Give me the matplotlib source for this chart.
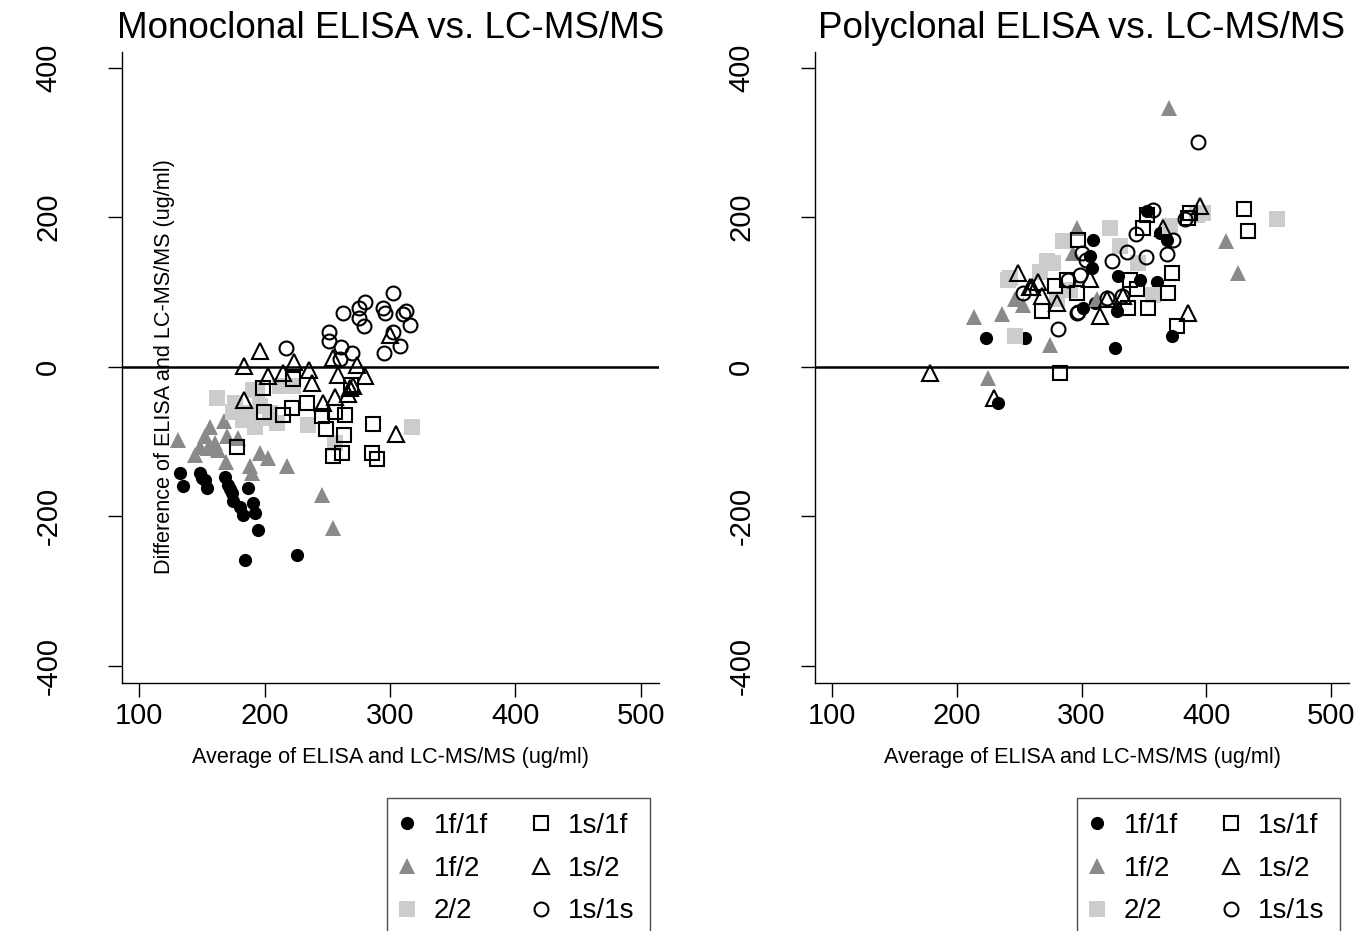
import matplotlib
matplotlib.use("Agg")
import matplotlib.pyplot as plt
import numpy as np

# ---- Monoclonal panel (x = average, y = difference) ----
mono_1f1f_x = [132.7, 134.8, 148.6, 154.4, 150.0, 152.6, 168.5, 171.2, 172.5, 173.9, 175.2, 180.5,
               183.2, 187.1, 191.1, 192.4, 195.1, 184.5, 225.7]
mono_1f1f_y = [-142, -159, -142, -162, -149, -151, -147, -158, -164, -169, -180, -187,
               -198, -162, -182, -196, -218, -258, -252]

mono_1f2_x = [131.3, 148.6, 152.6, 155.2, 156.6, 160.6, 167.7, 169.3, 169.9, 179.1, 188.4, 189.8,
              196.4, 203.0, 217.7, 245.6, 254.8, 144.6, 163.0]
mono_1f2_y = [-98, -107, -93, -109, -80, -102, -73, -127, -93, -95, -133, -142,
              -115, -122, -133, -171, -216, -118, -111]

mono_22_x = [161.9, 176.5, 175.1, 183.1, 185.8, 192.4, 193.8, 196.4, 204.4, 209.7, 217.7, 222.9,
             234.9, 256.2, 317.3, 191.0, 212.0, 188.0, 204.0]
mono_22_y = [-42, -49, -60, -71, -62, -80, -31, -53, -62, -75, -26, -26,
             -78, -102, -80, -31, -26, -66, -68]

mono_1s1f_x = [177.8, 198.6, 199.6, 215.0, 221.7, 222.5, 233.6, 245.6, 249.0, 254.8, 256.2, 261.5,
               263.3, 264.1, 268.7, 285.4, 286.2, 289.4]
mono_1s1f_y = [-108, -28, -61, -64, -55, -17, -49, -66, -83, -120, -60, -115,
               -91, -64, -25, -115, -77, -123]

mono_1s2_x = [183.7, 183.7, 196.4, 202.5, 215.0, 223.7, 235.7, 238.1, 246.4, 254.8, 258.8, 256.2,
              266.8, 268.1, 270.8, 273.5, 280.1, 300.0, 304.5]
mono_1s2_y = [1, -45, 21, -13, -8, 6, -4, -22, -48, 12, -11, -40,
              -37, -28, -26, 3, -12, 43, -90]

mono_1s1s_x = [216.9, 251.6, 251.6, 260.2, 260.7, 262.8, 269.5, 275.5, 275.5, 279.5, 280.1, 294.7,
               296.0, 302.6, 302.6, 308.0, 295.4, 310.6, 312.7, 315.9]
mono_1s1s_y = [25, 46, 35, 10, 27, 72, 18, 79, 65, 54, 86, 79,
               72, 99, 47, 28, 19, 70, 75, 56]

# ---- Polyclonal panel ----
poly_1f1f_x = [223.4, 233.3, 254.7, 301.2, 308.2, 309.5, 310.8, 326.9, 328.2, 329.5, 346.9, 352.3,
               360.3, 362.9, 368.3, 372.3, 306.8]
poly_1f1f_y = [38, -49, 38, 79, 132, 170, 85, 25, 74, 122, 116, 208,
               114, 179, 170, 41, 148]

poly_1f2_x = [370.4, 214.1, 236.0, 225.3, 274.7, 253.3, 293.4, 296.2, 415.8, 425.7, 246.7, 312.3]
poly_1f2_y = [346, 67, 70, -15, 29, 83, 152, 186, 168, 125, 90, 90]

poly_22_x = [456.4, 322.8, 397.6, 246.7, 241.3, 285.4, 277.4, 266.7, 330.9, 345.5, 357.5, 370.9,
             280.1, 290.8, 272.1, 242.7, 392.4]
poly_22_y = [197, 186, 205, 41, 116, 168, 139, 127, 161, 139, 96, 188,
             90, 103, 141, 119, 203]

poly_1s1f_x = [430.3, 433.7, 297.4, 278.8, 268.1, 296.2, 338.9, 344.2, 337.5, 353.6, 369.6, 372.3,
               376.8, 282.8, 352.3, 387.0, 385.7, 349.5, 288.1]
poly_1s1f_y = [211, 182, 169, 108, 75, 99, 116, 104, 79, 79, 99, 126,
               55, -8, 203, 206, 199, 186, 116]

poly_1s2_x = [178.6, 229.9, 249.3, 265.4, 268.1, 280.1, 314.8, 320.2, 333.5, 385.7, 394.6, 365.6,
              306.8, 258.7, 260.1]
poly_1s2_y = [-9, -42, 126, 113, 95, 85, 68, 91, 94, 72, 215, 186,
              117, 107, 107]

poly_1s1s_x = [393.2, 281.4, 252.9, 297.4, 324.2, 336.2, 351.7, 343.7, 357.6, 368.3, 373.1, 383.0,
               320.2, 300.2, 298.8, 289.4, 296.2, 332.2, 304.0]
poly_1s1s_y = [300, 50, 99, 73, 142, 154, 147, 178, 209, 151, 169, 197,
               92, 152, 123, 116, 72, 94, 143]

group_labels = ["1f/1f", "1f/2", "2/2", "1s/1f", "1s/2", "1s/1s"]
panel_titles = ["Monoclonal ELISA vs. LC-MS/MS", "Polyclonal ELISA vs. LC-MS/MS"]
x_ticks = [100, 200, 300, 400, 500]
y_ticks = [-400, -200, 0, 200, 400]

mono = [(mono_1f1f_x, mono_1f1f_y), (mono_1f2_x, mono_1f2_y), (mono_22_x, mono_22_y),
        (mono_1s1f_x, mono_1s1f_y), (mono_1s2_x, mono_1s2_y), (mono_1s1s_x, mono_1s1s_y)]
poly = [(poly_1f1f_x, poly_1f1f_y), (poly_1f2_x, poly_1f2_y), (poly_22_x, poly_22_y),
        (poly_1s1f_x, poly_1s1f_y), (poly_1s2_x, poly_1s2_y), (poly_1s1s_x, poly_1s1s_y)]

styles = [
    dict(marker="o", ms=9.5, mfc="black", mec="black", mew=0),
    dict(marker="^", ms=11.5, mfc="#8a8a8a", mec="#8a8a8a", mew=0),
    dict(marker="s", ms=11.0, mfc="#cccccc", mec="#cccccc", mew=0),
    dict(marker="s", ms=9.5, mfc="none", mec="black", mew=1.5),
    dict(marker="^", ms=11.0, mfc="none", mec="black", mew=1.5),
    dict(marker="o", ms=10.0, mfc="none", mec="black", mew=1.5),
]
draw_order = [2, 1, 0, 3, 4, 5]

plt.rcParams["font.family"] = ["Liberation Sans", "DejaVu Sans"]

fig = plt.figure(figsize=(13.71, 9.31), dpi=100)
ax_l = fig.add_axes([122 / 1371, 1 - 683 / 931, 537 / 1371, 631 / 931])
ax_r = fig.add_axes([815 / 1371, 1 - 683 / 931, 534 / 1371, 631 / 931])

for ax, data, title in [(ax_l, mono, panel_titles[0]), (ax_r, poly, panel_titles[1])]:
    ax.axhline(0, color="black", lw=1.8, zorder=1)
    handles = [None] * 6
    for i in draw_order:
        xs, ys = data[i]
        (h,) = ax.plot(xs, ys, ls="none", label=group_labels[i], zorder=2 + i, **styles[i])
        handles[i] = h
    ax.set_xlim(86.4, 514.4)
    ax.set_ylim(-423, 421)
    ax.set_xticks(x_ticks)
    ax.set_yticks(y_ticks)
    ax.set_yticklabels([str(v) for v in y_ticks], rotation=90, va="center")
    ax.tick_params(axis="both", labelsize=21, length=10, width=1.0, color="black")
    ax.tick_params(axis="y", pad=33)
    ax.tick_params(axis="x", pad=4)
    for side in ["top", "right"]:
        ax.spines[side].set_visible(False)
    for side in ["left", "bottom"]:
        ax.spines[side].set_linewidth(1.0)
    ax.set_title(title, fontsize=26.5, pad=10)
    ax.set_xlabel("Average of ELISA and LC-MS/MS (ug/ml)", fontsize=15.6, labelpad=12)
    leg = ax.legend(handles=handles, loc="upper right", bbox_to_anchor=(0.983, -0.182),
                    ncol=2, fontsize=20, frameon=True, fancybox=False, markerscale=1.0,
                    handlelength=0.3, handletextpad=0.83, columnspacing=1.75,
                    labelspacing=0.6, borderpad=0.55, borderaxespad=0)
    leg.get_frame().set_edgecolor("#222222")
    leg.get_frame().set_linewidth(1.0)

ax_l.text(0.08, 0.502, "Difference of ELISA and LC-MS/MS (ug/ml)", transform=ax_l.transAxes,
          rotation=90, ha="center", va="center", fontsize=15.6, zorder=20)

fig.savefig("out.png", dpi=100, facecolor="white")
